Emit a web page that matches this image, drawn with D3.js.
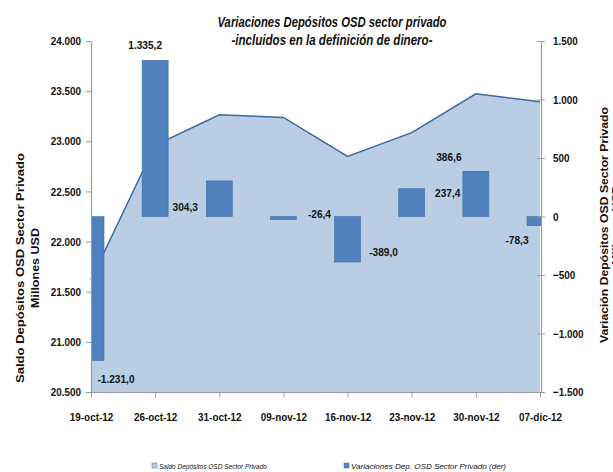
<!DOCTYPE html>
<html>
<head>
<meta charset="utf-8">
<script src="https://cdn.jsdelivr.net/npm/d3@7"></script>
<style>
  body { margin: 0; background: #fff; }
  svg { display: block; }
  text { fill: #111; }
</style>
</head>
<body>
<script>
// fechas (eje x)
var fechas = ["19-oct-12", "26-oct-12", "31-oct-12", "09-nov-12", "16-nov-12", "23-nov-12", "30-nov-12", "07-dic-12"];
// saldo depositos OSD sector privado, millones USD (eje izq, area)
var saldo = [21620, 22960, 23265, 23238, 22849, 23086, 23473, 23395];
// variaciones (eje der, barras)
var variacion = [-1231.0, 1335.2, 304.3, -26.4, -389.0, 237.4, 386.6, -78.3];
var etiquetas = ["-1.231,0", "1.335,2", "304,3", "-26,4", "-389,0", "237,4", "386,6", "-78,3"];
var ticksIzq = [20500, 21000, 21500, 22000, 22500, 23000, 23500, 24000];
var ticksDer = [-1500, -1000, -500, 0, 500, 1000, 1500];

// donde caen las etiquetas respecto al extremo de cada barra (como en el original)
var desplEtiq = [[25, 18], [-10, -15], [-34, 26], [36, -6], [36, -10], [36, 4], [-27, -14], [-23, 14]];

var W = 613, H = 472;
var x0 = 91, x1 = 540, yTop = 41, yBot = 392;

var fmt = function(v) { return d3.format(",")(v).replace(/,/g, "."); };
var fuente = "'Liberation Sans', Arial, sans-serif";

// el original usa una letra estrecha (Calibri): se comprime el texto
function estrechar(sel, k) {
  sel.each(function() {
    var w = this.getComputedTextLength();
    d3.select(this).attr("textLength", w * k).attr("lengthAdjust", "spacingAndGlyphs");
  });
}
function ancho(sel, w) {
  sel.attr("textLength", w).attr("lengthAdjust", "spacingAndGlyphs");
}

var svg = d3.select("body").append("svg")
    .attr("width", W)
    .attr("height", H);

var x = d3.scalePoint().domain(fechas).range([x0, x1]);
var yIzq = d3.scaleLinear().domain([20500, 24000]).range([yBot, yTop]);
var yDer = d3.scaleLinear().domain([-1500, 1500]).range([yBot, yTop]);

svg.append("clipPath").attr("id", "plot")
  .append("rect")
    .attr("x", x0).attr("y", 0)
    .attr("width", x1 - x0 + 1).attr("height", H);

// area
var area = d3.area()
    .x(function(d, i) { return x(fechas[i]); })
    .y0(yBot)
    .y1(function(d) { return yIzq(d); });

var linea = d3.line()
    .x(function(d, i) { return x(fechas[i]); })
    .y(function(d) { return yIzq(d); });

svg.append("path")
    .datum(saldo)
    .attr("d", area)
    .attr("fill", "#b9cde5");

svg.append("path")
    .datum(saldo)
    .attr("d", linea)
    .attr("fill", "none")
    .attr("stroke", "#3f68a0")
    .attr("stroke-width", 1.5);

// barras
var bw = 26;
svg.append("g")
    .attr("clip-path", "url(#plot)")
  .selectAll("rect")
  .data(variacion)
  .enter().append("rect")
    .attr("x", function(d, i) { return x(fechas[i]) - bw / 2; })
    .attr("y", function(d) { return yDer(Math.max(0, d)); })
    .attr("width", bw)
    .attr("height", function(d) { return Math.abs(yDer(d) - yDer(0)); })
    .attr("fill", "#4f81bd")
    .attr("stroke", "#41709f")
    .attr("stroke-width", 0.6);

// etiquetas de datos
svg.append("g").selectAll("text")
  .data(variacion)
  .enter().append("text")
    .attr("x", function(d, i) { return x(fechas[i]) + desplEtiq[i][0]; })
    .attr("y", function(d, i) { return yDer(d) + desplEtiq[i][1]; })
    .attr("dy", "0.35em")
    .attr("text-anchor", "middle")
    .style("font-family", fuente)
    .style("font-weight", "bold")
    .style("font-size", "11.5px")
    .text(function(d, i) { return etiquetas[i]; })
    .call(estrechar, 0.88);

// ejes
var gIzq = svg.append("g")
    .attr("transform", "translate(" + x0 + ",0)")
    .call(d3.axisLeft(yIzq).tickValues(ticksIzq).tickFormat(fmt).tickSize(5).tickSizeOuter(0).tickPadding(5));

var gDer = svg.append("g")
    .attr("transform", "translate(" + (x1 + 1) + ",0)")
    .call(d3.axisRight(yDer).tickValues(ticksDer).tickFormat(fmt).tickSize(4).tickSizeOuter(0).tickPadding(8));
gDer.selectAll(".tick line").attr("x1", -4);

var gX = svg.append("g")
    .attr("transform", "translate(0," + yBot + ")")
    .call(d3.axisBottom(x).tickSize(5).tickSizeOuter(0).tickPadding(16));

[gIzq, gDer, gX].forEach(function(g) {
  g.select(".domain").attr("stroke", "#9a9a9a").attr("stroke-width", 1.2);
  g.selectAll(".tick line").attr("stroke", "#9a9a9a");
  g.selectAll(".tick text")
    .style("font-family", fuente)
    .style("font-weight", "bold")
    .style("font-size", "11.5px")
    .attr("fill", "#111")
    .call(estrechar, 0.86);
});

// titulo
var titulo = ["Variaciones Depósitos OSD sector privado", "-incluidos en la definición de dinero-"];
var anchoTitulo = [229, 201];
svg.append("g").selectAll("text")
  .data(titulo)
  .enter().append("text")
    .attr("x", 332)
    .attr("y", function(d, i) { return 27 + i * 18; })
    .attr("text-anchor", "middle")
    .style("font-family", fuente)
    .style("font-weight", "bold")
    .style("font-style", "italic")
    .style("font-size", "15.5px")
    .text(function(d) { return d; })
    .each(function(d, i) { d3.select(this).call(ancho, anchoTitulo[i]); });

// titulos de ejes
var tIzq = ["Saldo Depósitos OSD  Sector Privado", "Millones USD"];
var anchoIzq = [230, 80];
svg.append("g").selectAll("text")
  .data(tIzq)
  .enter().append("text")
    .attr("transform", function(d, i) { return "translate(" + (24 + i * 15) + ",268) rotate(-90)"; })
    .attr("text-anchor", "middle")
    .style("font-family", fuente)
    .style("font-weight", "bold")
    .style("font-size", "11px")
    .text(function(d) { return d; })
    .each(function(d, i) { d3.select(this).call(ancho, anchoIzq[i]); });

// en el original la segunda linea del eje derecho queda cortada por el borde
var tDer = ["Variación  Depósitos OSD  Sector Privado", "Millones USD"];
var anchoDer = [236, 80];
svg.append("g").selectAll("text")
  .data(tDer)
  .enter().append("text")
    .attr("transform", function(d, i) { return "translate(" + (608 + i * 12) + ",225) rotate(-90)"; })
    .attr("text-anchor", "middle")
    .style("font-family", fuente)
    .style("font-weight", "bold")
    .style("font-size", "11px")
    .text(function(d) { return d; })
    .each(function(d, i) { d3.select(this).call(ancho, anchoDer[i]); });

// leyenda
var leyenda = [
  { nombre: "Saldo Depósitos OSD Sector Privado", color: "#b9cde5", borde: "#4f81bd", x: 152, w: 108 },
  { nombre: "Variaciones Dep. OSD Sector Privado (der)", color: "#4f81bd", borde: "#4f81bd", x: 344, w: 155 }
];
var gl = svg.append("g").selectAll("g")
  .data(leyenda)
  .enter().append("g")
    .attr("transform", function(d) { return "translate(" + d.x + ",463)"; });
gl.append("rect")
    .attr("width", 5).attr("height", 5)
    .attr("fill", function(d) { return d.color; })
    .attr("stroke", function(d) { return d.borde; })
    .attr("stroke-width", 0.6);
gl.append("text")
    .attr("x", 7).attr("y", 5.5)
    .style("font-family", fuente)
    .style("font-style", "italic")
    .style("font-size", "8px")
    .attr("fill", "#444")
    .text(function(d) { return d.nombre; })
    .each(function(d) { d3.select(this).call(ancho, d.w); });
</script>
</body>
</html>
